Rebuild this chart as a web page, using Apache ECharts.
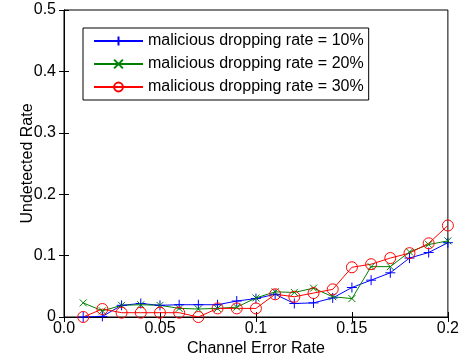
<!DOCTYPE html>
<html><head><meta charset="utf-8">
<script src="https://cdn.jsdelivr.net/npm/echarts@6/dist/echarts.min.js"></script>
<style>html,body{margin:0;padding:0;background:#fff}#c{width:462px;height:364px}</style>
</head><body><div id="c"></div>
<script>
var xVals = [0.01,0.02,0.03,0.04,0.05,0.06,0.07,0.08,0.09,0.10,0.11,0.12,0.13,0.14,0.15,0.16,0.17,0.18,0.19,0.20];
var rate10 = [0.000,0.001,0.019,0.022,0.019,0.020,0.020,0.020,0.026,0.030,0.037,0.022,0.023,0.031,0.048,0.060,0.072,0.096,0.105,0.121];
var rate20 = [0.023,0.010,0.019,0.020,0.019,0.014,0.013,0.014,0.016,0.031,0.041,0.040,0.047,0.033,0.030,0.082,0.082,0.106,0.118,0.124];
var rate30 = [0.000,0.013,0.007,0.007,0.007,0.007,0.000,0.014,0.014,0.014,0.037,0.033,0.039,0.045,0.081,0.086,0.096,0.104,0.120,0.149];
var names = ['malicious dropping rate = 10%','malicious dropping rate = 20%','malicious dropping rate = 30%'];
var xTicks = {0:'0.0',0.05:'0.05',0.1:'0.1',0.15:'0.15',0.2:'0.2'};
function pairs(ys){return xVals.map(function(x,i){return [x,ys[i]];});}
var font = 'Liberation Sans, Arial, sans-serif';
var chart = echarts.init(document.getElementById('c'));
function mk(name, ys, color, symbol, size){
  return {name:name,type:'line',data:pairs(ys),symbol:symbol,symbolSize:size,showSymbol:true,
    lineStyle:{color:color,width:1},
    itemStyle:{color:'rgba(0,0,0,0)',borderColor:color,borderWidth:1},
    emphasis:{disabled:true},animation:false,z:3};
}
chart.setOption({
  animation:false,
  grid:{left:64,right:13,top:10,bottom:47,show:true,borderColor:'#000',borderWidth:1},
  legend:{left:83,top:28,orient:'vertical',backgroundColor:'#fff',borderColor:'#000',borderWidth:1,
    padding:[5,5,5,10],itemWidth:49,itemHeight:11,itemGap:7,
    textStyle:{fontFamily:font,fontSize:16,color:'#000'},data:names},
  xAxis:[{type:'value',min:0,max:0.2,interval:0.05,
    name:'Channel Error Rate',nameLocation:'middle',nameGap:24,nameMoveOverlap:false,
    nameTextStyle:{fontFamily:font,fontSize:16,color:'#000'},
    axisLine:{show:true,lineStyle:{color:'#000'}},
    axisTick:{inside:true,length:5,lineStyle:{color:'#000'}},
    axisLabel:{fontFamily:font,fontSize:16,color:'#000',margin:4,formatter:function(v){var k=Math.round(v*100)/100;return xTicks[k]!==undefined?xTicks[k]:'';}},
    splitLine:{show:false}},
   {type:'value',position:'top',min:0,max:0.2,interval:0.05,axisLine:{show:true,lineStyle:{color:'#000'}},
    axisTick:{inside:true,length:5,lineStyle:{color:'#000'}},axisLabel:{show:false},splitLine:{show:false}}],
  yAxis:[{type:'value',min:0,max:0.5,interval:0.1,
    name:'Undetected Rate',nameLocation:'middle',nameGap:28,nameMoveOverlap:false,
    nameTextStyle:{fontFamily:font,fontSize:16,color:'#000'},
    axisLine:{show:true,lineStyle:{color:'#000'}},
    axisTick:{inside:true,length:5,lineStyle:{color:'#000'}},
    axisLabel:{fontFamily:font,fontSize:16,color:'#000',margin:8,formatter:function(v){return v===0?'0':String(Math.round(v*10)/10);}},
    splitLine:{show:false}},
   {type:'value',position:'right',min:0,max:0.5,interval:0.1,axisLine:{show:true,lineStyle:{color:'#000'}},
    axisTick:{inside:true,length:5,lineStyle:{color:'#000'}},axisLabel:{show:false},splitLine:{show:false}}],
  series:[
    mk(names[0],rate10,'#0000ff','path://M5,0L5,10M0,5L10,5',10),
    mk(names[1],rate20,'#008000','path://M0,0L10,10M0,10L10,0',7),
    mk(names[2],rate30,'#ff0000','circle',11)
  ]
});
</script></body></html>
